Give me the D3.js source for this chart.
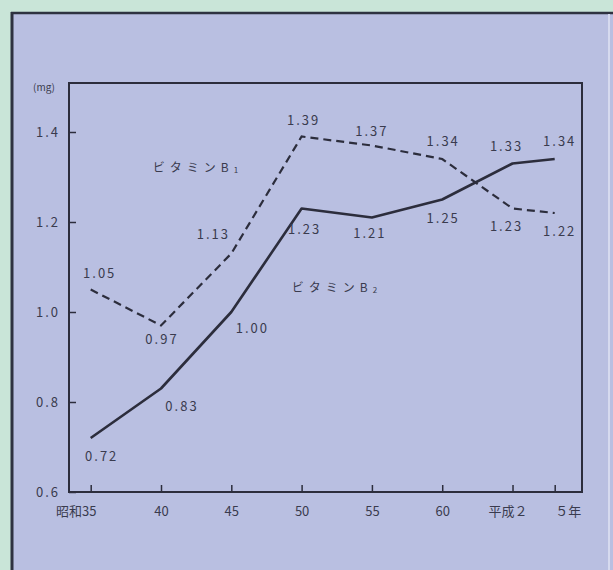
<!DOCTYPE html>
<html>
<head>
<meta charset="utf-8">
<script src="https://cdn.jsdelivr.net/npm/d3@7"></script>
<style>
  html, body { margin: 0; padding: 0; background: #c9e5d8; }
  svg { display: block; }
  text { font-family: "Noto Sans CJK JP", "DejaVu Sans", sans-serif; fill: #3a3b4e; }
</style>
</head>
<body>
<svg id="chart" width="613" height="570"></svg>
<script>
// Survey years (Showa 35 = 1960 ... Heisei 5 = 1993)
const years = [1960, 1965, 1970, 1975, 1980, 1985, 1990, 1993];
const yearLabels = ["昭和35", "40", "45", "50", "55", "60", "平成２", "５年"];

// Daily intake (mg)
const vitaminB1 = [1.05, 0.97, 1.13, 1.39, 1.37, 1.34, 1.23, 1.22];
const vitaminB2 = [0.72, 0.83, 1.00, 1.23, 1.21, 1.25, 1.33, 1.34];

const yTicks = [0.6, 0.8, 1.0, 1.2, 1.4];

// Value-label placement relative to each point (dx, dy)
const b1LabelOffset = [[9, -17], [1, 13], [-18, -20], [2, -17], [0, -15], [1, -19], [-6, 17], [5, 17]];
const b2LabelOffset = [[11, 17], [21, 17], [21, 15], [3, 20], [-2, 15], [1, 18], [-6, -18], [5, -19]];

const svg = d3.select("#chart");

// Panel
svg.append("rect").attr("x", 11).attr("y", 12).attr("width", 602).attr("height", 558)
  .attr("fill", "#b9bfe1");
svg.append("line").attr("x1", 11).attr("x2", 613).attr("y1", 13).attr("y2", 13)
  .attr("stroke", "#2e3240").attr("stroke-width", 2.5);
svg.append("line").attr("x1", 12).attr("x2", 12).attr("y1", 12).attr("y2", 570)
  .attr("stroke", "#2e3240").attr("stroke-width", 3);
svg.append("line").attr("x1", 609).attr("x2", 609).attr("y1", 14).attr("y2", 570)
  .attr("stroke", "#d6daef").attr("stroke-width", 2);

const plotLeft = 69, plotRight = 582, plotTop = 83, plotBottom = 492;

const x = d3.scaleLinear().domain([1960, 1993]).range([90.7, 554.7]);
const y = d3.scaleLinear().domain([0.6, 1.4]).range([plotBottom, 132]);

const ink = "#2c2d3c";

// Frame
svg.append("rect").attr("x", plotLeft).attr("y", plotTop)
  .attr("width", plotRight - plotLeft).attr("height", plotBottom - plotTop)
  .attr("fill", "none").attr("stroke", ink).attr("stroke-width", 2);

// Y axis (ticks pointing inward)
const yAxis = d3.axisRight(y).tickValues(yTicks).tickSize(7).tickFormat(d3.format(".1f"));
const gy = svg.append("g").attr("transform", `translate(${plotLeft},0)`).call(yAxis);
gy.select(".domain").remove();
gy.selectAll(".tick line").attr("stroke", ink).attr("stroke-width", 1.5);
gy.selectAll(".tick text").attr("x", -9).attr("text-anchor", "end")
  .style("font-size", "13px").style("letter-spacing", "2px").attr("fill", "#3a3b4e");

svg.append("text").attr("x", 44).attr("y", 91).attr("text-anchor", "middle")
  .style("font-size", "10px").text("(mg)");

// X axis (ticks pointing inward)
const xAxis = d3.axisTop(x).tickValues(years).tickSize(7).tickFormat((d, i) => yearLabels[i]);
const gx = svg.append("g").attr("transform", `translate(0,${plotBottom})`).call(xAxis);
gx.select(".domain").remove();
gx.selectAll(".tick line").attr("stroke", ink).attr("stroke-width", 1.5);
gx.selectAll(".tick text").attr("y", 24).attr("dy", 0).attr("text-anchor", "middle")
  .style("font-size", "13px").attr("fill", "#3a3b4e");
gx.selectAll(".tick text").filter((d, i) => i === 0).attr("dx", -15);
gx.selectAll(".tick text").filter((d, i) => i === 6).attr("dx", -5);
gx.selectAll(".tick text").filter((d, i) => i === 7).attr("dx", 13);

const line = d3.line().x((d, i) => x(years[i])).y(d => y(d));

svg.append("path").datum(vitaminB1).attr("d", line)
  .attr("fill", "none").attr("stroke", ink).attr("stroke-width", 2.2)
  .attr("stroke-dasharray", "8,5");
svg.append("path").datum(vitaminB2).attr("d", line)
  .attr("fill", "none").attr("stroke", ink).attr("stroke-width", 2.6)
  .attr("stroke-linejoin", "round");

// Value labels
function labels(values, offsets) {
  svg.append("g").selectAll("text").data(values).join("text")
    .attr("x", (d, i) => x(years[i]) + offsets[i][0])
    .attr("y", (d, i) => y(d) + offsets[i][1])
    .attr("text-anchor", "middle").attr("dominant-baseline", "central")
    .style("font-size", "13px").style("letter-spacing", "2px")
    .text(d => d.toFixed(2));
}
labels(vitaminB1, b1LabelOffset);
labels(vitaminB2, b2LabelOffset);

// Series names
function seriesName(cx, cy, sub) {
  const t = svg.append("text").attr("x", cx).attr("y", cy)
    .attr("text-anchor", "middle").attr("dominant-baseline", "central")
    .style("font-size", "12px").style("letter-spacing", "5px");
  t.append("tspan").text("ビタミンB");
  t.append("tspan").attr("dy", 3).style("font-size", "8px").text(sub);
}
seriesName(198, 166, "1");
seriesName(337, 286, "2");
</script>
</body>
</html>
